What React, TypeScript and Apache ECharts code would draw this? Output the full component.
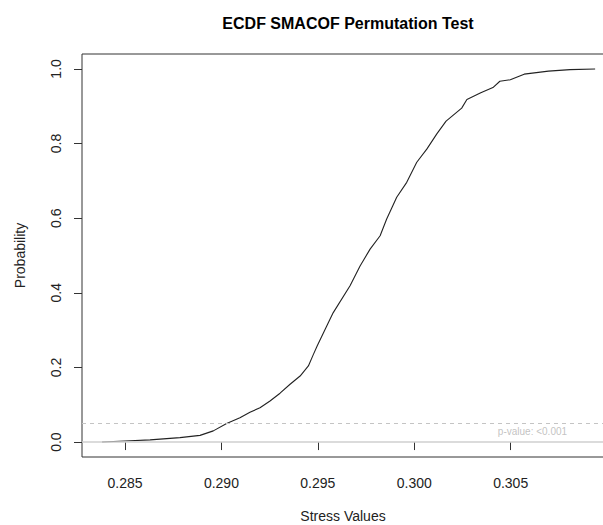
import React, { useEffect, useRef } from "react";
import * as echarts from "echarts";

// ECDF curve (stress value, cumulative probability)
const stressValues = [
  0.28381, 0.285, 0.2863, 0.28785, 0.28889, 0.28958, 0.29027, 0.29096, 0.29148,
  0.292, 0.29252, 0.29304, 0.29356, 0.29408, 0.29451, 0.29477, 0.29497, 0.29563,
  0.2958, 0.29667, 0.29719, 0.29771, 0.29823, 0.29857, 0.29909, 0.29961, 0.30013,
  0.30065, 0.30117, 0.30165, 0.30246, 0.30273, 0.30345, 0.30408, 0.30444, 0.30498,
  0.3057, 0.30696, 0.30808, 0.30938,
];
const probabilities = [
  0.0, 0.003, 0.006, 0.012, 0.018, 0.03, 0.05, 0.065, 0.08,
  0.092, 0.11, 0.131, 0.155, 0.177, 0.204, 0.235, 0.258, 0.329,
  0.347, 0.419, 0.472, 0.517, 0.553, 0.598, 0.656, 0.696, 0.75,
  0.785, 0.826, 0.86, 0.895, 0.918, 0.936, 0.95, 0.967, 0.971,
  0.986, 0.994, 0.998, 1.0,
];

const xTicks = [0.285, 0.29, 0.295, 0.3, 0.305];
const yTicks = [0, 0.2, 0.4, 0.6, 0.8, 1.0];
const significanceLevel = 0.05;
const baseLevel = 0;
const pValueText = "p-value: <0.001";
const pValueAnchor = [0.30613, 0.028];

const FONT = "'Liberation Sans', Arial, Helvetica, sans-serif";

export default function App() {
  const ref = useRef<HTMLDivElement>(null);

  useEffect(() => {
    document.body.style.margin = "0";
    if (!ref.current) return;
    const chart = echarts.init(ref.current, undefined, { renderer: "svg" });
    const option = {
      animation: false,
      backgroundColor: "#ffffff",
      title: {
        text: "ECDF SMACOF Permutation Test",
        left: 343,
        top: 10,
        textAlign: "center",
        textStyle: { fontFamily: FONT, fontSize: 16, fontWeight: "bold", color: "#000" },
      },
      grid: {
        left: 82,
        top: 54,
        right: -1,
        bottom: 68,
        outerBoundsMode: "none",
        containLabel: false,
        show: true,
        borderColor: "#333",
        borderWidth: 1,
        backgroundColor: "transparent",
      },
      xAxis: {
        type: "value",
        min: 0.28277,
        max: 0.30984,
        name: "Stress Values",
        nameLocation: "middle",
        nameGap: 52,
        nameTextStyle: { fontFamily: FONT, fontSize: 14, color: "#222" },
        axisLine: { show: false },
        splitLine: { show: false },
        axisTick: {
          show: true,
          length: 8,
          customValues: xTicks,
          lineStyle: { color: "#333", width: 1 },
        },
        axisLabel: {
          customValues: xTicks,
          margin: 19,
          formatter: (v: number) => v.toFixed(3),
          fontFamily: FONT,
          fontSize: 14,
          color: "#222",
        },
      },
      yAxis: {
        type: "value",
        min: -0.04,
        max: 1.04,
        name: "Probability",
        nameLocation: "middle",
        nameGap: 55,
        nameTextStyle: { fontFamily: FONT, fontSize: 14, color: "#222" },
        axisLine: { show: false },
        splitLine: { show: false },
        axisTick: {
          show: true,
          length: 8,
          customValues: yTicks,
          lineStyle: { color: "#333", width: 1 },
        },
        axisLabel: {
          customValues: yTicks,
          rotate: 90,
          margin: 19,
          formatter: (v: number) => v.toFixed(1),
          fontFamily: FONT,
          fontSize: 14,
          color: "#222",
        },
      },
      series: [
        {
          type: "line",
          data: stressValues.map((x, i) => [x, probabilities[i]]),
          showSymbol: false,
          symbol: "none",
          lineStyle: { color: "#222", width: 1.1 },
          z: 3,
          markLine: {
            silent: true,
            symbol: "none",
            label: { show: false },
            data: [
              { yAxis: significanceLevel, lineStyle: { color: "#c4c4c4", type: [4, 4], width: 1 } },
              { yAxis: baseLevel, lineStyle: { color: "#cfcfcf", type: "solid", width: 1.5 } },
            ],
          },
        },
        {
          type: "scatter",
          data: [pValueAnchor],
          symbolSize: 0,
          silent: true,
          label: {
            show: true,
            position: "inside",
            formatter: pValueText,
            fontFamily: FONT,
            fontSize: 10,
            color: "#b3b3b3",
          },
        },
      ],
    };
    chart.setOption(option as any);
    return () => chart.dispose();
  }, []);

  return <div ref={ref} style={{ width: 603, height: 525 }} />;
}
